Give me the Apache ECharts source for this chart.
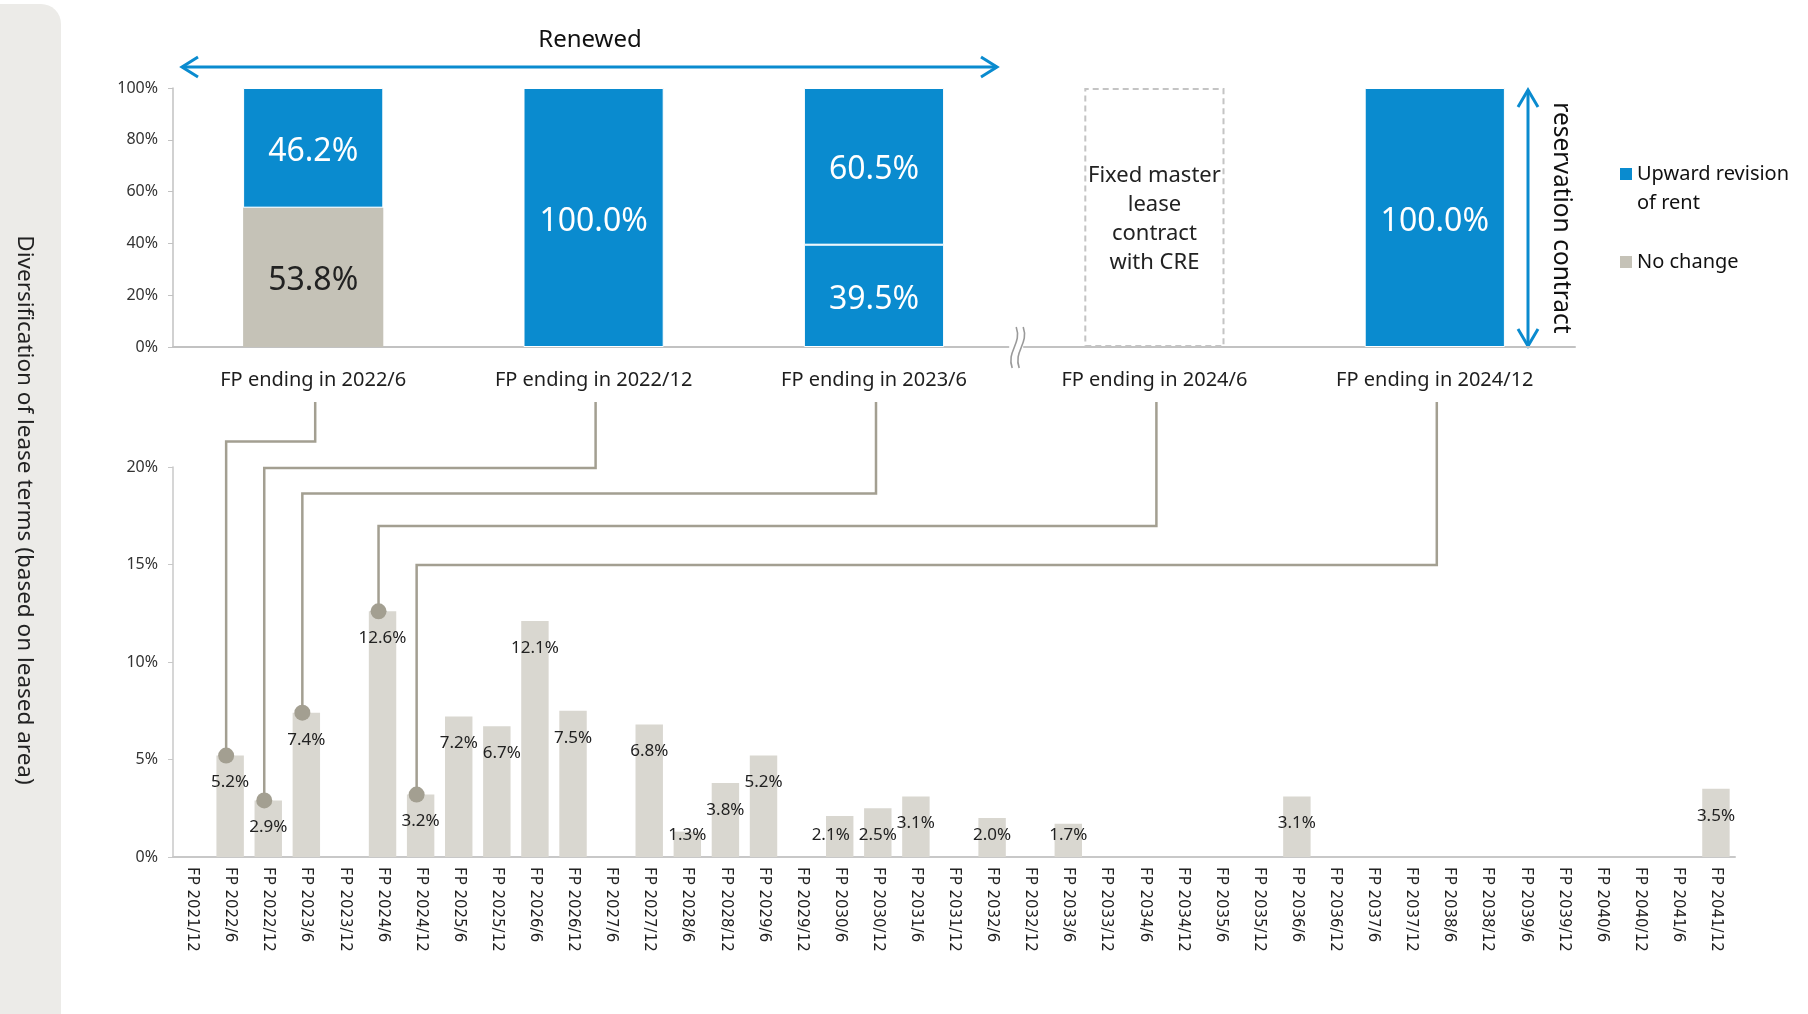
<!DOCTYPE html>
<html><head><meta charset="utf-8">
<script src="https://cdn.jsdelivr.net/npm/echarts@6/dist/echarts.min.js"></script>
<style>html,body{margin:0;padding:0;background:#fff}#c{width:1808px;height:1014px}</style>
</head><body><div id="c"></div>
<script>
// ---------- data ----------
const topCategories = ['FP ending in 2022/6', 'FP ending in 2022/12', 'FP ending in 2023/6', 'FP ending in 2024/6', 'FP ending in 2024/12'];
const upwardRevision = [46.2, 100.0, 60.5, null, 100.0];
const upwardRevisionLower = [null, null, 39.5, null, null];
const noChange = [53.8, null, null, null, null];
const fixedMasterLease = [null, null, null, 100, null];
const fixedMasterLeaseText = 'Fixed master\nlease\ncontract\nwith CRE';

const expiryCategories = ['FP 2021/12', 'FP 2022/6', 'FP 2022/12', 'FP 2023/6', 'FP 2023/12', 'FP 2024/6', 'FP 2024/12', 'FP 2025/6', 'FP 2025/12', 'FP 2026/6', 'FP 2026/12', 'FP 2027/6', 'FP 2027/12', 'FP 2028/6', 'FP 2028/12', 'FP 2029/6', 'FP 2029/12', 'FP 2030/6', 'FP 2030/12', 'FP 2031/6', 'FP 2031/12', 'FP 2032/6', 'FP 2032/12', 'FP 2033/6', 'FP 2033/12', 'FP 2034/6', 'FP 2034/12', 'FP 2035/6', 'FP 2035/12', 'FP 2036/6', 'FP 2036/12', 'FP 2037/6', 'FP 2037/12', 'FP 2038/6', 'FP 2038/12', 'FP 2039/6', 'FP 2039/12', 'FP 2040/6', 'FP 2040/12', 'FP 2041/6', 'FP 2041/12'];
const expiryShare = [0, 5.2, 2.9, 7.4, 0, 12.6, 3.2, 7.2, 6.7, 12.1, 7.5, 0, 6.8, 1.3, 3.8, 5.2, 0, 2.1, 2.5, 3.1, 0, 2.0, 0, 1.7, 0, 0, 0, 0, 0, 3.1, 0, 0, 0, 0, 0, 0, 0, 0, 0, 0, 3.5];

// top period index -> bottom expiry index
const links = [[0, 1], [1, 2], [2, 3], [3, 5], [4, 6]];

// ---------- style ----------
const BLUE = '#0a8bcf';
const GRAY_TOP = '#c5c2b7';
const GRAY_BAR = '#d9d7d0';
const LINK = '#a39f91';
const FONT = '"Noto Sans", "Open Sans", sans-serif';
const labelShift = {8: [5, 0], 17: [-9, 0]};
const elbowY = [441.5, 468, 493.5, 526, 565];

const chart = echarts.init(document.getElementById('c'), null, {renderer: 'canvas'});

const pct = v => v.toFixed(1) + '%';

const bottomData = expiryShare.map((v, i) => {
  const small = v < 2.4;
  return {
    value: v,
    label: {
      show: v > 0,
      position: small ? 'insideBottom' : 'insideTop',
      distance: small ? 13 : 18,
      offset: labelShift[i] || [0, 0]
    }
  };
});

const option = {
  animation: false,
  backgroundColor: '#fff',
  textStyle: {fontFamily: FONT},
  grid: [
    {left: 173, top: 88, width: 1402, height: 259},
    {left: 173, top: 467, width: 1562, height: 390}
  ],
  xAxis: [
    {gridIndex: 0, type: 'category', data: topCategories,
     axisLine: {lineStyle: {color: '#c2c2c2', width: 2}}, axisTick: {show: false},
     axisLabel: {fontSize: 20, color: '#1e1e1e', margin: 23, fontFamily: FONT}},
    {gridIndex: 1, type: 'category', data: expiryCategories,
     axisLine: {lineStyle: {color: '#c8c8c8', width: 2}}, axisTick: {show: false},
     axisLabel: {interval: 0, rotate: -90, fontSize: 15, color: '#222', margin: 10, fontFamily: '"DejaVu Sans", sans-serif'}}
  ],
  yAxis: [
    {gridIndex: 0, type: 'value', min: 0, max: 100, interval: 20,
     axisLine: {show: true, lineStyle: {color: '#c2c2c2', width: 1.5}},
     axisTick: {show: true, length: 5, lineStyle: {color: '#c2c2c2'}},
     splitLine: {show: false},
     axisLabel: {formatter: '{value}%', fontSize: 16, color: '#333', margin: 15, fontFamily: FONT}},
    {gridIndex: 1, type: 'value', min: 0, max: 20, interval: 5,
     axisLine: {show: true, lineStyle: {color: '#c8c8c8', width: 1.5}},
     axisTick: {show: true, length: 5, lineStyle: {color: '#c8c8c8'}},
     splitLine: {show: false},
     axisLabel: {formatter: '{value}%', fontSize: 16, color: '#333', margin: 15, fontFamily: FONT}}
  ],
  series: [
    {name: 'No change', type: 'bar', xAxisIndex: 0, yAxisIndex: 0, stack: 'top', barWidth: '50%',
     data: noChange, itemStyle: {color: GRAY_TOP},
     label: {show: true, position: 'inside', offset: [0, 4], fontSize: 32, color: '#222', fontFamily: FONT, formatter: p => pct(p.value)}},
    {name: 'Upward revision of rent', type: 'bar', xAxisIndex: 0, yAxisIndex: 0, stack: 'top', barWidth: '50%',
     data: upwardRevisionLower, itemStyle: {color: BLUE, borderColor: '#fff', borderWidth: 1},
     label: {show: true, position: 'inside', offset: [0, 4], fontSize: 32, color: '#fff', fontFamily: FONT, formatter: p => pct(p.value)}},
    {name: 'Upward revision of rent', type: 'bar', xAxisIndex: 0, yAxisIndex: 0, stack: 'top', barWidth: '50%',
     data: upwardRevision, itemStyle: {color: BLUE, borderColor: '#fff', borderWidth: 1},
     label: {show: true, position: 'inside', offset: [0, 4], fontSize: 32, color: '#fff', fontFamily: FONT, formatter: p => pct(p.value)}},
    {name: 'Fixed master lease', type: 'bar', xAxisIndex: 0, yAxisIndex: 0, stack: 'top', barWidth: '50%',
     data: fixedMasterLease,
     itemStyle: {color: 'rgba(255,255,255,0)', borderColor: '#c4c4c4', borderWidth: 2, borderType: [6, 4]},
     label: {show: true, position: 'inside', offset: [0, 2], fontSize: 22, lineHeight: 29, color: '#222', fontFamily: FONT, formatter: () => fixedMasterLeaseText}},
    {name: 'Lease expiry', type: 'bar', xAxisIndex: 1, yAxisIndex: 1, barWidth: '72%',
     data: bottomData, itemStyle: {color: GRAY_BAR},
     label: {fontSize: 17, lineHeight: 18, color: '#222', fontFamily: FONT, formatter: p => pct(p.value)}}
  ]
};

chart.setOption(option);

// ---------- annotations positioned via the axes ----------
function buildGraphics() {
  const g = [];
  // left title panel
  g.push({type: 'rect', z: -10, shape: {x: -20, y: 4, width: 81, height: 1100, r: 20}, style: {fill: '#ecebe8'}});
  g.push({type: 'text', x: 24, y: 510, rotation: -Math.PI / 2,
          style: {text: 'Diversification of lease terms (based on leased area)', fontSize: 22.5, fontFamily: FONT, fill: '#222', align: 'center', verticalAlign: 'middle'}});

  // Renewed arrow
  const ry = 67, rx1 = 182, rx2 = 997;
  const arrowStyle = {stroke: BLUE, lineWidth: 3, fill: null};
  g.push({type: 'line', shape: {x1: rx1, y1: ry, x2: rx2, y2: ry}, style: arrowStyle});
  g.push({type: 'polyline', shape: {points: [[rx1 + 16, ry - 10], [rx1, ry], [rx1 + 16, ry + 10]]}, style: arrowStyle});
  g.push({type: 'polyline', shape: {points: [[rx2 - 16, ry - 10], [rx2, ry], [rx2 - 16, ry + 10]]}, style: arrowStyle});
  g.push({type: 'text', x: 590, y: 40, style: {text: 'Renewed', fontSize: 24, fontFamily: FONT, fill: '#111', align: 'center', verticalAlign: 'middle'}});

  // reservation contract arrow
  const vx = 1528, vy1 = 90, vy2 = 346;
  g.push({type: 'line', shape: {x1: vx, y1: vy1, x2: vx, y2: vy2}, style: arrowStyle});
  g.push({type: 'polyline', shape: {points: [[vx - 10, vy1 + 17], [vx, vy1], [vx + 10, vy1 + 17]]}, style: arrowStyle});
  g.push({type: 'polyline', shape: {points: [[vx - 10, vy2 - 17], [vx, vy2], [vx + 10, vy2 - 17]]}, style: arrowStyle});
  g.push({type: 'text', x: 1561, y: 218, rotation: -Math.PI / 2,
          style: {text: 'reservation contract', fontSize: 24.5, fontFamily: FONT, fill: '#111', align: 'center', verticalAlign: 'middle'}});

  // legend
  g.push({type: 'rect', shape: {x: 1620, y: 168, width: 12, height: 12}, style: {fill: BLUE}});
  g.push({type: 'text', x: 1637, y: 174, style: {text: 'Upward revision', fontSize: 20, fontFamily: FONT, fill: '#111', verticalAlign: 'middle'}});
  g.push({type: 'text', x: 1637, y: 203, style: {text: 'of rent', fontSize: 20, fontFamily: FONT, fill: '#111', verticalAlign: 'middle'}});
  g.push({type: 'rect', shape: {x: 1620, y: 256, width: 12, height: 12}, style: {fill: GRAY_TOP}});
  g.push({type: 'text', x: 1637, y: 262, style: {text: 'No change', fontSize: 20, fontFamily: FONT, fill: '#111', verticalAlign: 'middle'}});

  // axis break mark between 2023/6 and 2024/6
  const b0 = chart.convertToPixel({xAxisIndex: 0, yAxisIndex: 0}, [2, 0]);
  const b1 = chart.convertToPixel({xAxisIndex: 0, yAxisIndex: 0}, [3, 0]);
  const bx = (b0[0] + b1[0]) / 2 + 3, by = b0[1];
  g.push({type: 'rect', z: 50, shape: {x: bx - 8, y: by - 4, width: 14, height: 8}, style: {fill: '#fff'}});
  [-3, 4].forEach(dx => {
    const x = bx + dx;
    g.push({type: 'bezierCurve', z: 51,
            shape: {x1: x + 2, y1: by - 20, x2: x - 2, y2: by + 21, cpx1: x + 8, cpy1: by - 3, cpx2: x - 8, cpy2: by + 4},
            style: {stroke: '#9a9a9a', lineWidth: 1.6, fill: null}});
  });

  // connectors from periods to expiry bars
  links.forEach(([ti, bi], k) => {
    const tp = chart.convertToPixel({xAxisIndex: 0, yAxisIndex: 0}, [ti, 0]);
    const bp = chart.convertToPixel({xAxisIndex: 1, yAxisIndex: 1}, [bi, expiryShare[bi]]);
    const tx = tp[0] + 2, dx = bp[0] - 4, dy = bp[1];
    g.push({type: 'polyline', z: 40,
            shape: {points: [[tx, 402], [tx, elbowY[k]], [dx, elbowY[k]], [dx, dy]]},
            style: {stroke: LINK, lineWidth: 2.5, fill: null}});
    g.push({type: 'circle', z: 41, shape: {cx: dx, cy: dy, r: 8}, style: {fill: LINK}});
  });
  return g;
}

chart.setOption({graphic: buildGraphics()});
</script>
</body></html>
